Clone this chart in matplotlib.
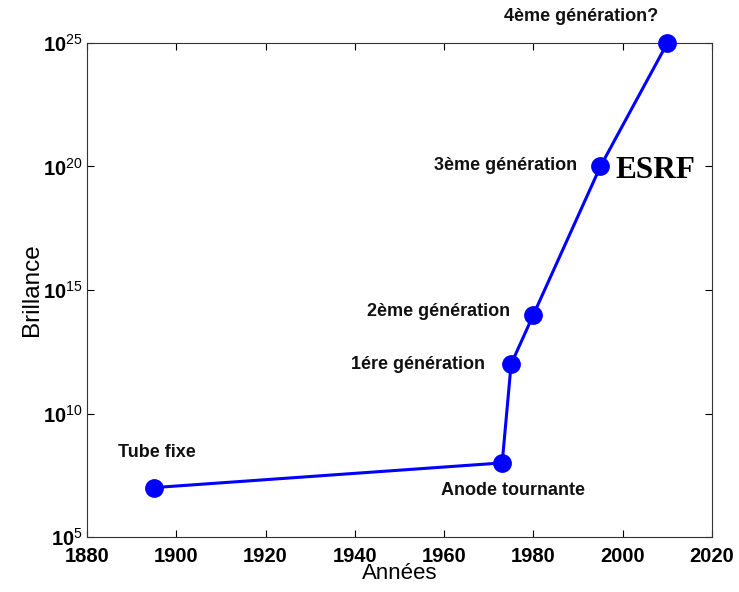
import math
import matplotlib
matplotlib.use("Agg")
import matplotlib.pyplot as plt
from matplotlib.ticker import FixedLocator, FuncFormatter, NullLocator

plt.rcParams['font.family'] = ['Liberation Sans', 'DejaVu Sans']
plt.rcParams['mathtext.fontset'] = 'custom'
plt.rcParams['mathtext.rm'] = 'Liberation Sans'
plt.rcParams['mathtext.bf'] = 'Liberation Sans:bold'

# Brillance des sources de rayons X au fil des années
annees = [1895, 1973, 1975, 1980, 1995, 2010]
brillance = [1e7, 1e8, 1e12, 1e14, 1e20, 1e25]
noms = ["Tube fixe", "Anode tournante", "1ére génération",
        "2ème génération", "3ème génération", "4ème génération?"]

x_ticks = [1880, 1900, 1920, 1940, 1960, 1980, 2000, 2020]
y_exps = [5, 10, 15, 20, 25]

fig = plt.figure(figsize=(7.39, 5.92), dpi=100)
ax = fig.add_axes([87 / 739, 55 / 592, 625 / 739, 494 / 592])

ax.plot(annees, brillance, color='#0000ff', lw=2.2, marker='o',
        markersize=12.5, markerfacecolor='#0000ff', markeredgecolor='#0000ff',
        clip_on=False, zorder=3)

ax.set_yscale('log')
ax.set_xlim(1880, 2020)
ax.set_ylim(1e5, 1e25)
ax.xaxis.set_major_locator(FixedLocator(x_ticks))
ax.yaxis.set_major_locator(FixedLocator([10.0 ** e for e in y_exps]))
ax.yaxis.set_minor_locator(NullLocator())
ax.yaxis.set_major_formatter(FuncFormatter(
    lambda v, p: r'$\mathbf{10}^{\mathrm{%d}}$' % round(math.log10(v))))

ax.tick_params(direction='in', top=True, right=True, length=5, width=0.8,
               labelsize=14.5)
ax.tick_params(axis='x', pad=7)
ax.tick_params(axis='y', pad=3)
for lab in ax.get_xticklabels():
    lab.set_fontweight('bold')
for sp in ax.spines.values():
    sp.set_linewidth(0.8)
    sp.set_color('#333333')

ax.set_xlabel("Années", fontsize=16, labelpad=-2)
ax.set_ylabel("Brillance", fontsize=17.5, labelpad=0)

# étiquettes des points
kw = dict(fontsize=13, fontweight='bold', color='#111111')
ax.annotate(noms[0], (annees[0], brillance[0]), xytext=(2, 25),
            textcoords='offset points', ha='center', va='center', **kw)
ax.annotate(noms[1], (annees[1], brillance[1]), xytext=(8, -20),
            textcoords='offset points', ha='center', va='center', **kw)
ax.annotate(noms[2], (annees[2], brillance[2]), xytext=(-19, 0),
            textcoords='offset points', ha='right', va='center', **kw)
ax.annotate(noms[3], (annees[3], brillance[3]), xytext=(-17, 2),
            textcoords='offset points', ha='right', va='center', **kw)
ax.annotate(noms[4], (annees[4], brillance[4]), xytext=(-17, 1),
            textcoords='offset points', ha='right', va='center', **kw)
ax.annotate(noms[5], (annees[5], brillance[5]), xytext=(-62, 19),
            textcoords='offset points', ha='center', va='center', **kw)
ax.annotate("ESRF", (annees[4], brillance[4]), xytext=(11, -3),
            textcoords='offset points', ha='left', va='center',
            fontsize=22.5, fontweight='bold', family='Liberation Serif')

fig.savefig("out.png", dpi=100, facecolor='white')
